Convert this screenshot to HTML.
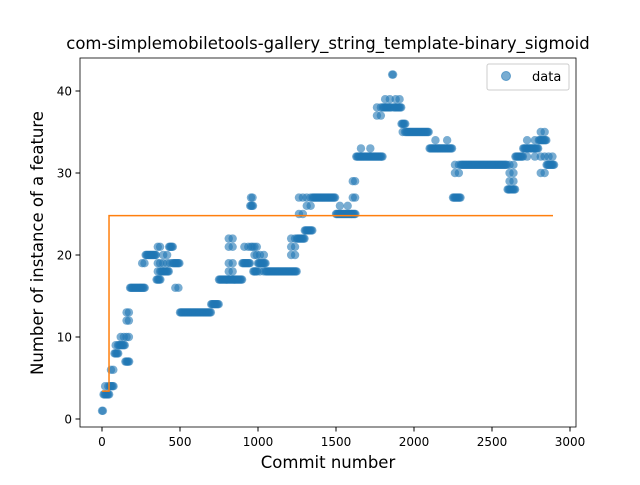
<!DOCTYPE html>
<html><head><meta charset="utf-8"><style>
body{margin:0;background:#fff}
svg text{font-family:"DejaVu Sans","Liberation Sans",sans-serif;fill:#000}
</style></head><body>
<svg id="chart" width="640" height="480" xmlns="http://www.w3.org/2000/svg">
<rect x="0" y="0" width="640" height="480" fill="#fff"/>
<g id="pts"></g>
<g id="fit"></g>
<rect x="80" y="58" width="496" height="369" fill="none" stroke="#000" stroke-width="0.8"/>
<g id="xt"></g>
<g id="yt"></g>
<text x="328" y="49" font-size="16.5" text-anchor="middle">com-simplemobiletools-gallery_string_template-binary_sigmoid</text>
<text x="328" y="468" font-size="16.5" text-anchor="middle">Commit number</text>
<text transform="translate(43,243) rotate(-90)" font-size="16.5" text-anchor="middle">Number of instance of a feature</text>
<g>
<rect x="487" y="64" width="82" height="26" rx="2" fill="#fff" fill-opacity="0.8" stroke="#ccc"/>
<circle cx="506" cy="76" r="4.5" fill="#1f77b4" fill-opacity="0.6" stroke="#1f77b4" stroke-opacity="0.6"/>
<text x="532" y="81" font-size="13">data</text>
</g>
</svg>
<script>
const runStart=[0,10,50,80,110,150,180,250,280,350,380,430,460,500,700,750,800,850,900,950,970,1000,1050,1200,1250,1300,1350,1500,1600,1630,1750,1800,1860,1870,1920,1950,2100,2250,2300,2600,2650,2700,2800,2850];
const runEnd=[10,50,80,110,150,180,250,280,350,380,430,460,500,700,750,800,850,900,950,970,1000,1050,1200,1250,1300,1350,1500,1600,1630,1750,1800,1860,1870,1920,1950,2100,2250,2300,2600,2650,2700,2800,2850,2900];
const runValues=[[1],[3,4],[4,6],[8,9],[9,10],[7,10,12,13],[16],[16,19],[20],[17,18,19,21],[18,19,20],[21,19],[19,16],[13],[14],[17],[17,18,19,22,21],[17],[19,21],[26,27,21],[18,20,21],[19,20,18],[18],[18,20,21,22],[22,25,27],[23,26,27],[27],[25,26],[25,27,29],[32,33],[32,37,38],[38,39],[42],[38,39],[36,35],[35],[33,34],[27,30,31],[31],[28,29,30,31],[32],[33,32,34],[34,35,30,32],[31,32]];
const fitX=[0,45,45,2891];
const fitY=[3.4,3.4,24.8,24.8];
const xTicks=[0,500,1000,1500,2000,2500,3000];
const yTicks=[0,10,20,30,40];
const sx=v=>102+v*0.156, sy=v=>419-v*8.2;
const NS="http://www.w3.org/2000/svg";
const pts=document.getElementById('pts');
runStart.forEach((s,i)=>{
  const e=runEnd[i]; const vals=runValues[i];
  vals.forEach((v,j)=>{
    const step=(j===0)?6:Math.max(6,(e-s)/2);
    for(let c=s+(j===0?0:step/2);c<e;c+=step){
      const el=document.createElementNS(NS,'circle');
      el.setAttribute('cx',sx(c));el.setAttribute('cy',sy(v));el.setAttribute('r',4.2);
      el.setAttribute('fill','#1f77b4');el.setAttribute('fill-opacity','0.6');
      
      
      pts.appendChild(el);
    }
  });
});
const pl=document.createElementNS(NS,'polyline');
pl.setAttribute('points',fitX.map((x,i)=>sx(x)+','+sy(fitY[i])).join(' '));
pl.setAttribute('fill','none');pl.setAttribute('stroke','#ff7f0e');pl.setAttribute('stroke-width','1.5');


document.getElementById('fit').appendChild(pl);
const xt=document.getElementById('xt');
xTicks.forEach(t=>{
  const l=document.createElementNS(NS,'line');
  l.setAttribute('x1',sx(t));l.setAttribute('x2',sx(t));l.setAttribute('y1',427);l.setAttribute('y2',431.5);l.setAttribute('stroke','#000');
  
  
  xt.appendChild(l);
  const tx=document.createElementNS(NS,'text');
  tx.setAttribute('x',sx(t));tx.setAttribute('y',446);tx.setAttribute('font-size','12');tx.setAttribute('text-anchor','middle');
  tx.textContent=t;
  
  
  xt.appendChild(tx);
});
const yt=document.getElementById('yt');
yTicks.forEach(t=>{
  const l=document.createElementNS(NS,'line');
  l.setAttribute('x1',75.5);l.setAttribute('x2',80);l.setAttribute('y1',sy(t));l.setAttribute('y2',sy(t));l.setAttribute('stroke','#000');
  
  
  yt.appendChild(l);
  const tx=document.createElementNS(NS,'text');
  tx.setAttribute('x',72);tx.setAttribute('y',sy(t)+4.5);tx.setAttribute('font-size','12');tx.setAttribute('text-anchor','end');
  tx.textContent=t;
  
  
  yt.appendChild(tx);
});
</script>
</body></html>
